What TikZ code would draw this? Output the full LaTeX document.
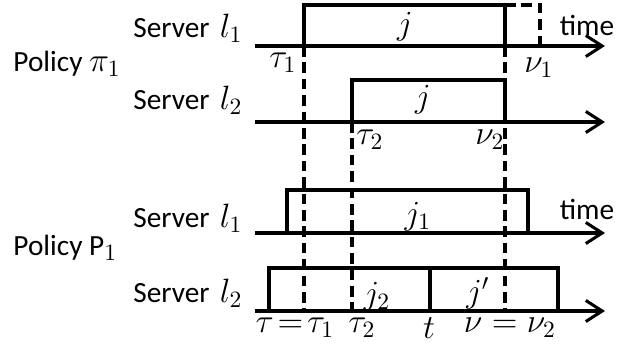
\documentclass[tikz,border=0pt]{standalone}
\usepackage[no-math]{fontspec}
\setmainfont{Carlito}
\usetikzlibrary{arrows.meta}
\usetikzlibrary{positioning}
\newcommand{\mfont}{\fontsize{14}{17}\selectfont}

\begin{document}
\begin{tikzpicture}[x=0.015cm,y=-0.015cm,
  axis/.style={line width=1.3pt,-{Straight Barb[length=7pt,width=9pt]}},
  job/.style={line width=1.3pt},
  guide/.style={line width=1.3pt,dash pattern=on 4.5pt off 2.5pt},
  lbl/.style={font=\fontsize{12.5}{15}\selectfont,inner sep=0pt},
  mlbl/.style={font=\mfont,inner sep=0pt}]
\useasboundingbox (0,0) rectangle (620,350);
% time axes
\coordinate (a1s) at (255,46);  \coordinate (a1e) at (605,46);
\coordinate (a2s) at (255,122); \coordinate (a2e) at (605,122);
\coordinate (a3s) at (255,233); \coordinate (a3e) at (605,233);
\coordinate (a4s) at (255,311); \coordinate (a4e) at (605,311);
% job corners
\coordinate (ja) at (304,46);  \coordinate (jb) at (505,5);
\coordinate (jc) at (352,122); \coordinate (jd) at (505,80);
\coordinate (je) at (287,233); \coordinate (jf) at (528,190);
\coordinate (jg) at (269,311); \coordinate (jh) at (558,268);
\coordinate (jt) at (430,311);
\coordinate (nu) at (540,46);
% dashed guides
\draw[guide] (ja) -- (ja |- a4s);
\draw[guide] (jc) -- (jc |- a4s);
\draw[guide] (jb |- a1s) -- (jb |- a4s);
\draw[guide] (jb) -| (nu);
% jobs
\draw[job] (ja) |- (jb) -- (jb |- a1s);
\draw[job] (jc) |- (jd) -- (jd |- a2s);
\draw[job] (je) |- (jf) -- (jf |- a3s);
\draw[job] (jg) |- (jh) -- (jh |- a4s);
\draw[job] (jt) -- (jt |- jh);
\draw[axis] (a1s) -- (a1e);
\draw[axis] (a2s) -- (a2e);
\draw[axis] (a3s) -- (a3e);
\draw[axis] (a4s) -- (a4e);
% policy pi_1
\node[lbl,anchor=east] (srv1a) at (243,28) {Server\hspace{0.35em}{\mfont$l_1$}};
\node[lbl,anchor=west] (pol1) at (13,64) {Policy {\mfont$\pi_1$}};
\node[lbl,anchor=east] (srv1b) at (243,100) {Server\hspace{0.35em}{\mfont$l_2$}};
\node[mlbl] (tau1) at (283,63) {$\tau_1$};
\node[mlbl] (job1) at (405,27) {$j$};
\node[lbl] (time1) at (587,25) {time};
\node[mlbl] (nu1) at (539,68) {$\nu_1$};
\node[mlbl] (job2) at (423,100) {$j$};
\node[mlbl] (tau2) at (370,140) {$\tau_2$};
\node[mlbl] (nu2) at (490,140) {$\nu_2$};
% policy P_1
\node[lbl,anchor=east] (srv2a) at (243,218) {Server\hspace{0.35em}{\mfont$l_1$}};
\node[lbl,anchor=west] (pol2) at (13,248) {Policy P{\mfont$_1$}};
\node[lbl,anchor=east] (srv2b) at (243,293) {Server\hspace{0.35em}{\mfont$l_2$}};
\node[mlbl] (job3) at (418,217) {$j_1$};
\node[lbl] (time2) at (587,209) {time};
\node[mlbl] (job4) at (377,297) {$j_2$};
\node[mlbl] (job5) at (478,293) {$j'$};
\node[mlbl] (tau3) at (295,328) {$\tau\!=\!\tau_1$};
\node[mlbl] (tau4) at (362,328) {$\tau_2$};
\node[mlbl] (tt) at (429,328) {$t$};
\node[mlbl] (nu3) at (510,328) {$\nu=\nu_2$};
\end{tikzpicture}
\end{document}
